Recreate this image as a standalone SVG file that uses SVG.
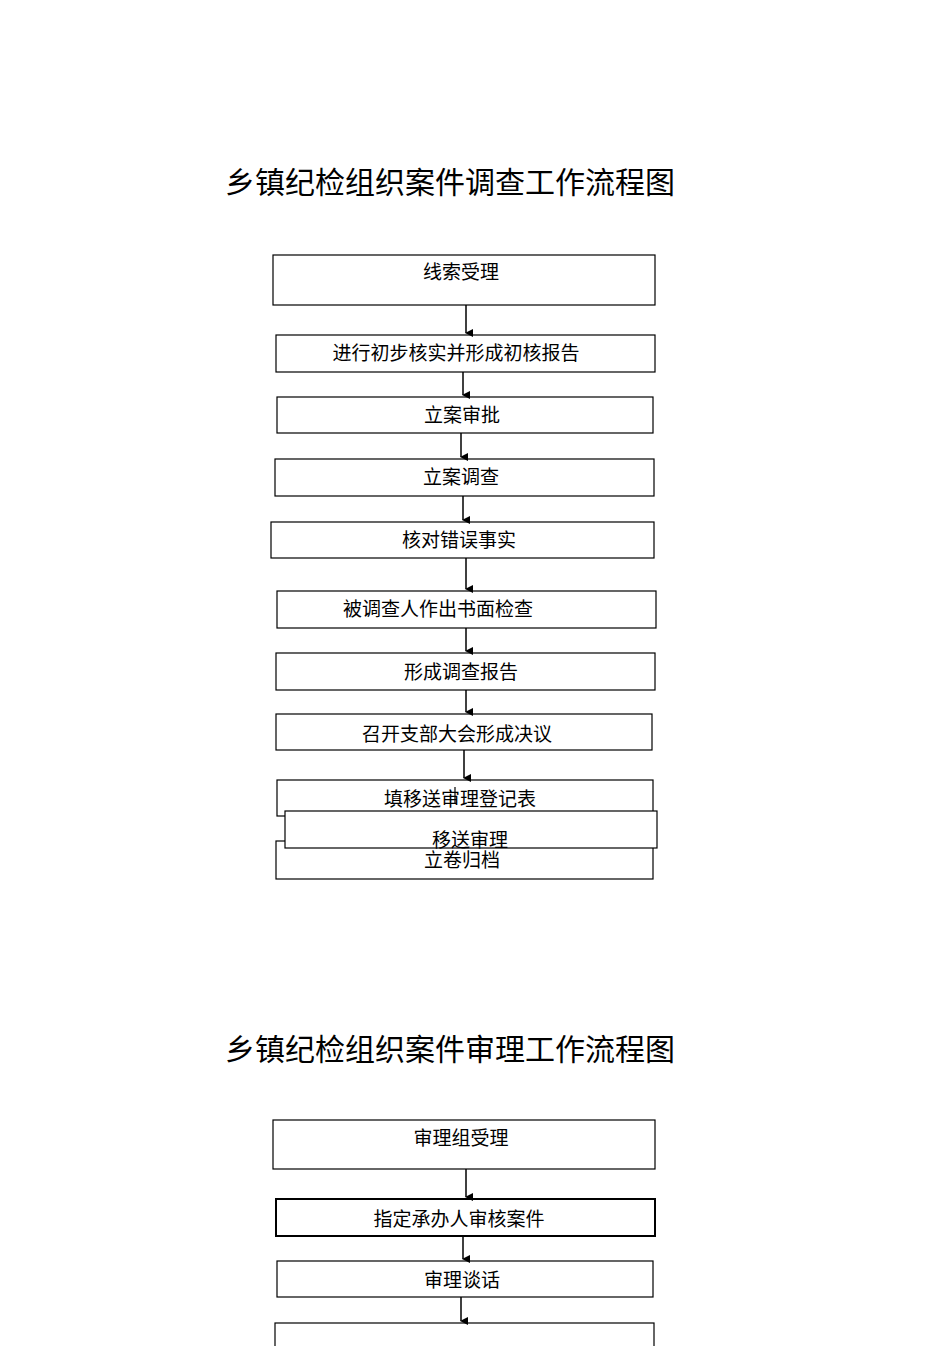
<svg xmlns="http://www.w3.org/2000/svg" width="950" height="1346" viewBox="0 0 950 1346">
<style>
.b{fill:#fff;stroke:#000;stroke-width:1.2}
.t{font-family:"Liberation Serif","Noto Sans CJK SC",serif;font-size:19px;text-anchor:middle;fill:#000}
.h{font-family:"Liberation Serif","Noto Sans CJK SC",serif;font-size:30px;text-anchor:middle;fill:#000}
.c{stroke:#000;stroke-width:1.5;fill:none;marker-end:url(#a)}
</style>
<defs><marker id="a" markerWidth="8" markerHeight="8" refX="4" refY="7" orient="auto" markerUnits="userSpaceOnUse"><path d="M0,0 L8,0 L4,8 Z" fill="#000"/></marker></defs>
<rect width="950" height="1346" fill="#fff"/>
<text class="h" x="450" y="193">乡镇纪检组织案件调查工作流程图</text>
<text class="h" x="450" y="1060">乡镇纪检组织案件审理工作流程图</text>
<g id="n1"><rect class="b" x="273" y="255" width="382" height="50"/><text class="t" x="461" y="279">线索受理</text></g>
<g id="n2"><rect class="b" x="276" y="335" width="379" height="37"/><text class="t" x="456" y="360">进行初步核实并形成初核报告</text></g>
<g id="n3"><rect class="b" x="277" y="397" width="376" height="36"/><text class="t" x="462" y="422">立案审批</text></g>
<g id="n4"><rect class="b" x="275" y="459" width="379" height="37"/><text class="t" x="461" y="484">立案调查</text></g>
<g id="n5"><rect class="b" x="271" y="522" width="383" height="36"/><text class="t" x="459" y="547">核对错误事实</text></g>
<g id="n6"><rect class="b" x="277" y="591" width="379" height="37"/><text class="t" x="438" y="616">被调查人作出书面检查</text></g>
<g id="n7"><rect class="b" x="276" y="653" width="379" height="37"/><text class="t" x="461" y="679">形成调查报告</text></g>
<g id="n8"><rect class="b" x="276" y="714" width="376" height="36"/><text class="t" x="457" y="741">召开支部大会形成决议</text></g>
<g id="n9"><rect class="b" x="277" y="780" width="376" height="36"/><text class="t" x="460" y="806">填移送审理登记表</text></g>
<g id="n11"><rect class="b" x="276" y="841" width="377" height="38"/><text class="t" x="462" y="867">立卷归档</text></g>
<g id="n10"><rect class="b" x="285" y="811" width="372" height="37"/><text class="t" x="470" y="847">移送审理</text></g>
<g id="m1"><rect class="b" x="273" y="1120" width="382" height="49"/><text class="t" x="461" y="1145">审理组受理</text></g>
<g id="m2"><rect class="b" x="276" y="1199" width="379" height="37" style="stroke-width:2"/><text class="t" x="459" y="1226">指定承办人审核案件</text></g>
<g id="m3"><rect class="b" x="277" y="1261" width="376" height="36"/><text class="t" x="462" y="1287">审理谈话</text></g>
<g id="m4"><rect class="b" x="275" y="1323" width="379" height="40"/></g>
<g id="connectors">
<line class="c" x1="466" y1="305" x2="466" y2="333"/>
<line class="c" x1="463" y1="372" x2="463" y2="395"/>
<line class="c" x1="461" y1="433" x2="461" y2="457"/>
<line class="c" x1="463" y1="496" x2="463" y2="520"/>
<line class="c" x1="466" y1="558" x2="466" y2="589"/>
<line class="c" x1="466" y1="628" x2="466" y2="651"/>
<line class="c" x1="466" y1="690" x2="466" y2="712"/>
<line class="c" x1="464" y1="750" x2="464" y2="778"/>
<line x1="455" y1="787" x2="455" y2="803" stroke="#000" stroke-width="1.2"/>
<line class="c" x1="466" y1="1169" x2="466" y2="1197"/>
<line class="c" x1="463" y1="1236" x2="463" y2="1259"/>
<line class="c" x1="461" y1="1297" x2="461" y2="1321"/>
</g>
</svg>
